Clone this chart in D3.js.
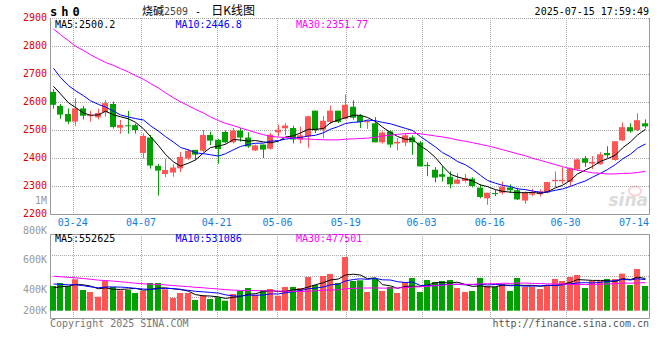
<!DOCTYPE html>
<html><head><meta charset="utf-8">
<script src="https://cdn.jsdelivr.net/npm/d3@7"></script>
<style>
html,body{margin:0;padding:0;background:#fff;}
svg{display:block;}
text{font-family:"DejaVu Sans Mono",monospace;font-size:10px;}
</style></head><body>
<svg id="c" width="660" height="360"></svg>
<script>
// ---------- data ----------
const dates = ["03-19","03-20","03-21","03-24","03-25","03-26","03-27","03-28","03-31",
"04-01","04-02","04-03","04-07","04-08","04-09","04-10","04-11","04-14","04-15","04-16","04-17","04-18",
"04-21","04-22","04-23","04-24","04-25","04-28","04-29","04-30",
"05-06","05-07","05-08","05-09","05-12","05-13","05-14","05-15","05-16","05-19","05-20","05-21","05-22","05-23",
"05-26","05-27","05-28","05-29","05-30",
"06-03","06-04","06-05","06-06","06-09","06-10","06-11","06-12","06-13","06-16","06-17","06-18","06-19","06-20",
"06-23","06-24","06-25","06-26","06-27","06-30",
"07-01","07-02","07-03","07-04","07-07","07-08","07-09","07-10","07-11","07-14","07-15"];
const opens  = [2636,2586,2557,2530,2577,2548,2545,2563,2593,2508,2515,2517,2418,2473,2372,2343,2348,2363,2398,2429,
2426,2482,2465,2493,2456,2498,2473,2427,2448,2433,2492,2506,2507,2466,2477,2569,2501,2529,2569,2540,
2583,2551,2528,2524,2456,2495,2452,2455,2474,2455,2373,2358,2342,2333,2308,2318,2326,2294,2256,2273,
2276,2295,2285,2248,2269,2271,2276,2317,2317,2315,2360,2399,2380,2378,2418,2393,2463,2510,2500,2524];
const highs  = [2646,2593,2577,2614,2586,2568,2576,2607,2601,2536,2568,2523,2488,2482,2379,2397,2378,2421,2432,2429,
2500,2494,2468,2498,2507,2507,2492,2448,2448,2489,2519,2524,2515,2512,2551,2569,2550,2587,2569,2627,
2606,2557,2536,2546,2495,2499,2471,2489,2481,2460,2385,2367,2370,2352,2346,2343,2331,2306,2276,2286,
2316,2306,2294,2281,2290,2288,2315,2352,2367,2366,2398,2407,2407,2421,2442,2460,2527,2524,2560,2538];
const lows   = [2576,2540,2521,2514,2538,2530,2538,2548,2505,2487,2487,2487,2398,2362,2266,2332,2333,2350,2393,2393,
2421,2446,2380,2452,2452,2458,2436,2425,2400,2430,2477,2481,2452,2452,2437,2489,2470,2521,2525,2537,
2537,2507,2504,2456,2451,2437,2427,2442,2411,2370,2335,2313,2316,2292,2306,2312,2295,2256,2233,2264,
2270,2275,2250,2236,2264,2262,2274,2296,2308,2300,2354,2368,2360,2376,2400,2390,2460,2490,2496,2506];
const closes = [2590,2555,2530,2577,2551,2551,2561,2596,2511,2518,2513,2500,2479,2373,2355,2357,2366,2404,2426,2412,
2482,2462,2432,2456,2498,2473,2441,2445,2430,2483,2501,2516,2466,2481,2549,2499,2533,2569,2529,2590,
2544,2529,2532,2456,2491,2448,2458,2481,2456,2370,2370,2330,2333,2306,2323,2329,2300,2261,2276,2270,
2298,2285,2252,2276,2274,2281,2314,2322,2322,2363,2395,2383,2386,2413,2410,2460,2510,2495,2535,2513];
// closes of the 29 sessions before 03-19 (only used for the moving averages)
const priorCloses = [3150,3180,3170,3010,3000,3010,2980,2820,2870,2870,2890,2870,2830,2840,2870,2900,2830,2850,2800,2870,
2885,2820,2757,2731,2731,2690,2690,2660,2650];
// volume, thousands of lots
const volumesK = [424,475,424,539,355,321,240,509,407,350,355,304,338,475,475,367,218,304,304,184,
264,201,230,172,286,338,389,274,355,372,257,407,407,389,578,441,595,630,475,921,
509,521,321,544,338,407,304,492,561,321,527,492,509,527,389,321,338,561,424,407,
458,338,561,407,412,372,424,544,509,578,612,389,509,509,544,544,635,441,715,424];
const priorVolumesK = [760,740,780,720,700,690,720,700,680,720,690,650,640,620,600,580,560,560,540,520,
540,500,530,520,515,400,370,400,381];
const priceTicks = [2900,2800,2700,2600,2500,2400,2300,2200];
const dateLabels = ["03-24","04-07","04-21","05-06","05-19","06-03","06-16","06-30","07-14"];
const volTickLabels = ["1M","800K","600K","400K","200K"];
const volTickValues = [1000,800,600,400,200];
const priceLegend = ["MA5:2500.2","MA10:2446.8","MA30:2351.77"];
const volLegend = ["MA5:552625","MA10:531086","MA30:477501"];
const maPeriods = [5,10,30];
const maColors = ["#000000","#0000ff","#ff00ff"];

// ---------- layout ----------
const L = 50, R = 649;
const PT = 18, PB = 214;       // price panel
const VT = 234, VB = 318;      // volume panel
const UP = "#ff5555", DOWN = "#00a000";
const svg = d3.select("#c");

const band = d3.scaleBand().domain(dates).range([L, R]);
const gx = d3.scalePoint().domain(dates).range([L, R]);
const y = d3.scaleLinear().domain([2200, 2900]).range([PB, PT]);
const vy = d3.scaleLinear().domain([0, 1310]).range([310.7, 234.3]);
const vLab = d3.scaleLinear().domain([0, 1000]).range([349.5, 200.3]);
const bx = d => Math.round(band(d));
const cx = d => Math.round(band(d)) + 3.5;

function movAvg(prior, vals, n) {
  const all = prior.concat(vals), off = prior.length;
  return vals.map((v, i) => d3.mean(all.slice(off + i - n + 1, off + i + 1)));
}

// ---------- grid ----------
const grid = svg.append("g").attr("stroke", "#aaa").attr("stroke-dasharray", "1,1");
priceTicks.filter(t => t !== 2200).forEach(t => {
  grid.append("line").attr("x1", L).attr("x2", R).attr("y1", Math.round(y(t)) + 0.5).attr("y2", Math.round(y(t)) + 0.5);
});
dateLabels.slice(0, -1).forEach(dl => {
  const x = Math.round(gx(dl)) + 0.5;
  grid.append("line").attr("x1", x).attr("x2", x).attr("y1", PT).attr("y2", PB);
  grid.append("line").attr("x1", x).attr("x2", x).attr("y1", VT).attr("y2", VB);
});
[0.25, 0.5, 0.75].forEach(f => {
  const yy = Math.round(VT + (VB - VT) * f) + 0.5;
  grid.append("line").attr("x1", L).attr("x2", R).attr("y1", yy).attr("y2", yy);
});

// borders
const bd = svg.append("g").attr("stroke", "#999").attr("fill", "none");
bd.append("path").attr("d", `M${L + 0.5},${PT}V${PB + 0.5}H${R + 0.5}V${PT}`);
bd.append("path").attr("d", `M${L + 0.5},${VT + 0.5}H${R + 0.5}V${VB + 0.5}H${L + 0.5}Z`);

// watermark
const wm = svg.append("g").attr("opacity", 0.35);
wm.append("ellipse").attr("cx", 635).attr("cy", 191).attr("rx", 6).attr("ry", 4.5).attr("fill", "none").attr("stroke", "#e88").attr("stroke-width", 2);
wm.append("text").attr("x", 648).attr("y", 206).attr("text-anchor", "end")
  .style("font-family", "DejaVu Sans").style("font-size", "17px").style("font-weight", "bold").style("font-style", "italic")
  .attr("fill", "#999").text("sina");

// ---------- candles ----------
const cg = svg.append("g");
dates.forEach((d, i) => {
  const o = opens[i], c = closes[i], col = c >= o ? UP : DOWN;
  cg.append("line").attr("x1", cx(d)).attr("x2", cx(d)).attr("y1", y(highs[i])).attr("y2", y(lows[i]))
    .attr("stroke", col).attr("stroke-width", 1);
  const top = y(Math.max(o, c)), h = Math.abs(y(o) - y(c));
  cg.append("rect").attr("x", bx(d)).attr("y", h < 1 ? top - 0.5 : top).attr("width", 6).attr("height", Math.max(1, h)).attr("fill", col);
});

// price moving averages
maPeriods.forEach((n, k) => {
  const ma = movAvg(priorCloses, closes, n);
  svg.append("path").datum(ma).attr("fill", "none").attr("stroke", maColors[k]).attr("stroke-width", 1)
    .attr("d", d3.line().x((v, i) => cx(dates[i])).y(v => y(v)));
});

// ---------- volume ----------
const vg = svg.append("g");
dates.forEach((d, i) => {
  const col = closes[i] >= opens[i] ? UP : DOWN;
  vg.append("rect").attr("x", bx(d)).attr("y", vy(volumesK[i])).attr("width", 6)
    .attr("height", vy(0) - vy(volumesK[i])).attr("fill", col);
});
maPeriods.forEach((n, k) => {
  const ma = movAvg(priorVolumesK, volumesK, n);
  svg.append("path").datum(ma).attr("fill", "none").attr("stroke", maColors[k]).attr("stroke-width", 1)
    .attr("d", d3.line().x((v, i) => cx(dates[i])).y(v => vy(v)));
});

// ---------- texts ----------
// price axis labels
priceTicks.forEach(t => {
  let yy = y(t) - 1;
  if (yy < 17.5) yy = 17.5;
  svg.append("text").attr("x", 47).attr("y", yy).attr("dy", "0.35em").attr("text-anchor", "end")
    .attr("fill", "#e00000").text(t);
});
// volume axis labels
volTickValues.forEach((v, k) => {
  let yy = vLab(v);
  if (yy > 310.3) yy = 310.3;
  svg.append("text").attr("x", 47).attr("y", yy).attr("dy", "0.35em").attr("text-anchor", "end")
    .attr("fill", "#999").text(volTickLabels[k]);
});
// date labels
dateLabels.forEach(dl => {
  let x = gx(dl);
  const halfW = dl.length * 6.02 / 2;
  if (x + halfW > R) x = R - halfW;
  svg.append("text").attr("x", x).attr("y", 225.5).attr("text-anchor", "middle").attr("fill", "#1080e0").text(dl);
});
// legends
[55, 175.5, 296].forEach((x, k) => {
  svg.append("text").attr("x", x).attr("y", 27.5).attr("fill", maColors[k]).text(priceLegend[k]);
  svg.append("text").attr("x", x).attr("y", 242).attr("fill", maColors[k]).text(volLegend[k]);
});
// header
svg.append("text").attr("x", 50).attr("y", 15.5).style("font-size", "12px").style("font-weight", "bold")
  .style("letter-spacing", "4px").attr("fill", "#000").text("sh0");
const title = svg.append("text").attr("x", 142).attr("y", 15).attr("fill", "#000");
title.append("tspan").style("font-family", "'Noto Sans CJK SC'").style("font-size", "11px").text("烧碱");
title.append("tspan").attr("fill", "#444").text("2509");
title.append("tspan").attr("dx", 7).text("-");
title.append("tspan").attr("dx", 10).style("font-family", "'Noto Sans CJK SC'").style("font-size", "12px").text("日K线图");
svg.append("text").attr("x", 649).attr("y", 15).attr("text-anchor", "end").attr("fill", "#000").text("2025-07-15 17:59:49");
// footer
svg.append("text").attr("x", 50).attr("y", 327).attr("fill", "#777").text("Copyright 2025 SINA.COM");
svg.append("text").attr("x", 649).attr("y", 327).attr("text-anchor", "end").attr("fill", "#555").text("http://finance.sina.com.cn");
</script></body></html>
